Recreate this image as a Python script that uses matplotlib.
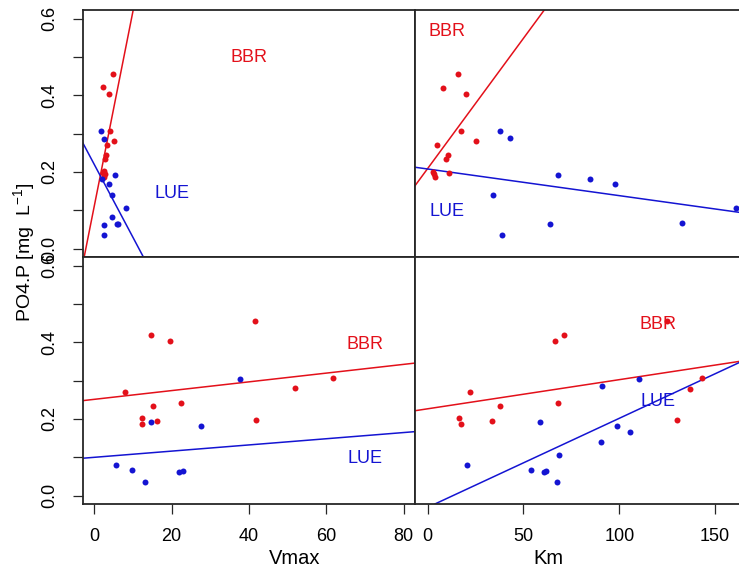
"""PO4.P vs Vmax / Km scatter panels, BBR (red) vs LUE (blue), with fitted lines."""
import matplotlib
matplotlib.use("Agg")
import matplotlib.pyplot as plt

plt.rcParams["font.family"] = ["Liberation Sans", "DejaVu Sans"]
plt.rcParams["mathtext.fontset"] = "custom"
plt.rcParams["mathtext.rm"] = "Liberation Sans"

RED = "#e3101a"
BLUE = "#1414d2"

# ---- top-left panel (x in Vmax column units, axis not shown) ----
TL_BBR_X = [4.9, 2.25, 3.8, 4.1, 5.1, 3.3, 2.95, 2.85, 2.4, 2.7, 2.5, 2.2]
TL_BBR_Y = [0.457, 0.421, 0.404, 0.307, 0.282, 0.271, 0.244, 0.235, 0.202, 0.194, 0.187, 0.198]
TL_LUE_X = [1.8, 2.4, 5.3, 3.7, 4.6, 8.1, 4.6, 6.1, 5.9, 2.4, 2.5, 2.0]
TL_LUE_Y = [0.306, 0.287, 0.191, 0.168, 0.140, 0.106, 0.082, 0.065, 0.063, 0.061, 0.036, 0.181]

# ---- top-right panel (x in Km column units, axis not shown) ----
TR_BBR_X = [15.8, 8.1, 19.9, 17.3, 25.0, 4.8, 10.6, 9.7, 11.2, 2.9, 3.5, 3.8]
TR_BBR_Y = [0.457, 0.420, 0.404, 0.307, 0.282, 0.271, 0.244, 0.235, 0.198, 0.200, 0.194, 0.187]
TR_LUE_X = [37.6, 43.2, 68.0, 34.1, 64.0, 39.0, 84.8, 98.0, 132.5, 160.9]
TR_LUE_Y = [0.306, 0.288, 0.191, 0.140, 0.064, 0.035, 0.181, 0.168, 0.066, 0.106]

# ---- bottom-left panel: PO4.P vs Vmax ----
VMAX_BBR = [14.7, 19.5, 7.9, 15.3, 22.5, 12.4, 12.4, 16.3, 41.6, 41.7, 52.0, 61.7]
PO4_VMAX_BBR = [0.420, 0.404, 0.270, 0.234, 0.243, 0.202, 0.187, 0.194, 0.456, 0.198, 0.280, 0.307]
VMAX_LUE = [37.6, 14.7, 27.7, 5.7, 9.8, 13.0, 21.9, 22.9]
PO4_VMAX_LUE = [0.305, 0.191, 0.181, 0.081, 0.066, 0.035, 0.061, 0.064]

# ---- bottom-right panel: PO4.P vs Km ----
KM_BBR = [66.2, 71.3, 22.0, 38.0, 68.0, 16.1, 17.2, 33.5, 124.9, 142.9, 137.0, 129.9]
PO4_KM_BBR = [0.404, 0.420, 0.270, 0.234, 0.243, 0.202, 0.187, 0.194, 0.456, 0.306, 0.279, 0.198]
KM_LUE = [58.8, 20.6, 53.9, 60.7, 61.9, 68.3, 67.4, 91.0, 110.3, 98.9, 105.8, 90.3]
PO4_KM_LUE = [0.191, 0.081, 0.066, 0.062, 0.063, 0.107, 0.035, 0.287, 0.305, 0.181, 0.167, 0.141]

# fitted lines: (intercept, slope)
FIT_TL = {"BBR": (0.1103, 0.0509), "LUE": (0.2199, -0.01904)}
FIT_TR = {"BBR": (0.209, 0.006803), "LUE": (0.2078, -0.000696)}
FIT_BL = {"BBR": (0.2513, 0.001142), "LUE": (0.0999, 0.000809)}
FIT_BR = {"BBR": (0.2266, 0.000761), "LUE": (-0.0308, 0.002326)}

VMAX_TICKS = [0, 20, 40, 60, 80]
KM_TICKS = [0, 50, 100, 150]
Y_TICKS = [0.0, 0.1, 0.2, 0.3, 0.4, 0.5, 0.6]

W, H = 739, 568


def _fx(px):
    return px / W


def _fy(py):
    return 1 - py / H


def _panel(fig, rect, xlim):
    ax = fig.add_axes(rect)
    ax.set_xlim(*xlim)
    ax.set_ylim(-0.022, 0.623)
    for s in ax.spines.values():
        s.set_color("#262626")
        s.set_linewidth(1.3)
    ax.tick_params(direction="out", length=7.5, width=0.9, color="#262626",
                   labelsize=13, pad=10)
    return ax


def _draw(ax, bbr, lue, fits, bbr_txt, lue_txt):
    ax.plot(*bbr, "o", color=RED, ms=4.3, mec="none", zorder=3)
    ax.plot(*lue, "o", color=BLUE, ms=4.3, mec="none", zorder=3)
    for grp, col in (("BBR", RED), ("LUE", BLUE)):
        a, b = fits[grp]
        ax.axline((0, a), slope=b, color=col, lw=1.1, zorder=2)
    ax.text(*bbr_txt, "BBR", color=RED, fontsize=13, ha="center", va="center")
    ax.text(*lue_txt, "LUE", color=BLUE, fontsize=13, ha="center", va="center")


def main():
    fig = plt.figure(figsize=(W / 100, H / 100), dpi=100)
    x0, xm, x1 = _fx(83), _fx(415), _fx(741)
    y_top, y_mid, y_bot = _fy(10), _fy(257), _fy(504)
    vlim = (-2.9, 82.9)
    klim = (-6.6, 163.5)

    tl = _panel(fig, [x0, y_mid, xm - x0, y_top - y_mid], vlim)
    tr = _panel(fig, [xm, y_mid, x1 - xm, y_top - y_mid], klim)
    bl = _panel(fig, [x0, y_bot, xm - x0, y_mid - y_bot], vlim)
    br = _panel(fig, [xm, y_bot, x1 - xm, y_mid - y_bot], klim)

    _draw(tl, (TL_BBR_X, TL_BBR_Y), (TL_LUE_X, TL_LUE_Y), FIT_TL, (40, 0.50), (20, 0.145))
    _draw(tr, (TR_BBR_X, TR_BBR_Y), (TR_LUE_X, TR_LUE_Y), FIT_TR, (10, 0.566), (10, 0.098))
    _draw(bl, (VMAX_BBR, PO4_VMAX_BBR), (VMAX_LUE, PO4_VMAX_LUE), FIT_BL, (70, 0.395), (70, 0.098))
    _draw(br, (KM_BBR, PO4_KM_BBR), (KM_LUE, PO4_KM_LUE), FIT_BR, (120, 0.446), (120, 0.245))

    ylabels = [f"{v:.1f}" if i % 2 == 0 else "" for i, v in enumerate(Y_TICKS)]
    for ax in (tl, bl):
        ax.set_yticks(Y_TICKS, ylabels)
        ax.tick_params(axis="y", labelrotation=90)
        for t in ax.get_yticklabels():
            t.set_va("center")
    for ax in (tr, br):
        ax.set_yticks(Y_TICKS, [])
        ax.tick_params(axis="y", length=0)
    for ax in (tl, tr):
        ax.set_xticks([])
    bl.set_xticks(VMAX_TICKS, [str(v) for v in VMAX_TICKS])
    br.set_xticks(KM_TICKS, [str(v) for v in KM_TICKS])

    fig.text(_fx(295), _fy(558), "Vmax", fontsize=14.5, ha="center", va="center")
    fig.text(_fx(548), _fy(558), "Km", fontsize=14.5, ha="center", va="center")
    fig.text(_fx(25), _fy(252), "PO4.P [mg  L$^{-1}$]", fontsize=14,
             rotation=90, ha="center", va="center")

    fig.savefig("out.png", dpi=100)
    plt.close(fig)


if __name__ == "__main__":
    main()
